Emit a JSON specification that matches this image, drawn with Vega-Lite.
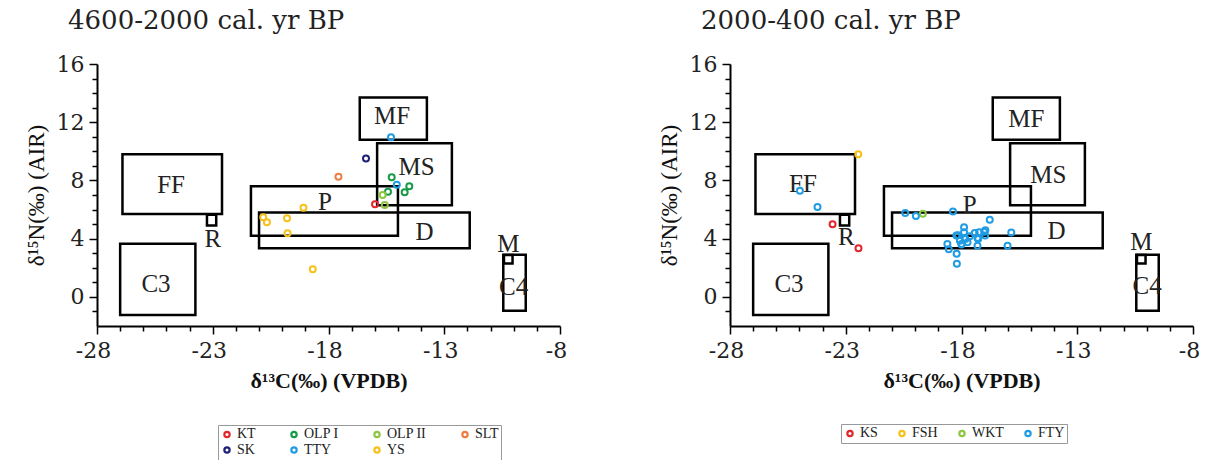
{
  "$schema": "https://vega.github.io/schema/vega-lite/v6.json",
  "padding": {"left": 25, "top": 8, "right": 5, "bottom": 0},
  "background": "white",
  "datasets": {
    "ptsL": [
      {"C": -15.99, "N": 6.36, "site": "KT"},
      {"C": -15.27, "N": 8.22, "site": "OLP I"},
      {"C": -14.51, "N": 7.6, "site": "OLP I"},
      {"C": -14.71, "N": 7.19, "site": "OLP I"},
      {"C": -15.43, "N": 7.23, "site": "OLP I"},
      {"C": -15.66, "N": 7.0, "site": "OLP II"},
      {"C": -15.57, "N": 6.32, "site": "OLP II"},
      {"C": -17.57, "N": 8.26, "site": "SLT"},
      {"C": -16.38, "N": 9.5, "site": "SK"},
      {"C": -15.3, "N": 10.96, "site": "TTY"},
      {"C": -15.05, "N": 7.71, "site": "TTY"},
      {"C": -19.08, "N": 6.13, "site": "YS"},
      {"C": -20.82, "N": 5.47, "site": "YS"},
      {"C": -20.66, "N": 5.13, "site": "YS"},
      {"C": -19.79, "N": 5.4, "site": "YS"},
      {"C": -19.77, "N": 4.37, "site": "YS"},
      {"C": -18.68, "N": 1.9, "site": "YS"}
    ],
    "ptsR": [
      {"C": -23.57, "N": 4.99, "site": "KS"},
      {"C": -22.45, "N": 3.34, "site": "KS"},
      {"C": -22.46, "N": 9.8, "site": "FSH"},
      {"C": -19.67, "N": 5.72, "site": "WKT"},
      {"C": -24.98, "N": 7.3, "site": "FTY"},
      {"C": -24.22, "N": 6.18, "site": "FTY"},
      {"C": -20.43, "N": 5.77, "site": "FTY"},
      {"C": -19.97, "N": 5.56, "site": "FTY"},
      {"C": -18.37, "N": 5.87, "site": "FTY"},
      {"C": -16.78, "N": 5.3, "site": "FTY"},
      {"C": -15.85, "N": 4.42, "site": "FTY"},
      {"C": -16.01, "N": 3.52, "site": "FTY"},
      {"C": -18.61, "N": 3.63, "site": "FTY"},
      {"C": -18.55, "N": 3.27, "site": "FTY"},
      {"C": -18.21, "N": 2.96, "site": "FTY"},
      {"C": -18.2, "N": 2.27, "site": "FTY"},
      {"C": -17.89, "N": 4.78, "site": "FTY"},
      {"C": -17.89, "N": 4.44, "site": "FTY"},
      {"C": -18.15, "N": 4.24, "site": "FTY"},
      {"C": -18.07, "N": 3.86, "site": "FTY"},
      {"C": -17.83, "N": 3.98, "site": "FTY"},
      {"C": -17.64, "N": 4.17, "site": "FTY"},
      {"C": -17.43, "N": 4.39, "site": "FTY"},
      {"C": -17.24, "N": 4.44, "site": "FTY"},
      {"C": -17.02, "N": 4.48, "site": "FTY"},
      {"C": -16.98, "N": 4.21, "site": "FTY"},
      {"C": -17.28, "N": 3.98, "site": "FTY"},
      {"C": -17.31, "N": 3.52, "site": "FTY"},
      {"C": -18.0, "N": 3.64, "site": "FTY"},
      {"C": -17.74, "N": 3.75, "site": "FTY"},
      {"C": -16.97, "N": 4.58, "site": "FTY"},
      {"C": -17.31, "N": 4.05, "site": "FTY"},
      {"C": -17.86, "N": 4.05, "site": "FTY"},
      {"C": -18.22, "N": 4.21, "site": "FTY"},
      {"C": -18.0, "N": 3.6, "site": "FTY"}
    ],
    "boxesL": [
      {"box": "FF", "x1": -26.9, "x2": -22.6, "y1": 5.7, "y2": 9.8, "lx": -24.8, "ly": 7.7},
      {"box": "R", "x1": -23.25, "x2": -22.85, "y1": 4.9, "y2": 5.65, "lx": -23.0, "ly": 4.0},
      {"box": "C3", "x1": -27.0, "x2": -23.75, "y1": -1.25, "y2": 3.65, "lx": -25.45, "ly": 0.9},
      {"box": "P", "x1": -21.35, "x2": -15.0, "y1": 4.2, "y2": 7.6, "lx": -18.15, "ly": 6.5},
      {"box": "D", "x1": -21.0, "x2": -11.9, "y1": 3.35, "y2": 5.8, "lx": -13.85, "ly": 4.45},
      {"box": "MS", "x1": -15.9, "x2": -12.67, "y1": 6.3, "y2": 10.55, "lx": -14.2, "ly": 8.95},
      {"box": "MF", "x1": -16.65, "x2": -13.75, "y1": 10.8, "y2": 13.7, "lx": -15.25, "ly": 12.45},
      {"box": "C4", "x1": -10.45, "x2": -9.48, "y1": -0.95, "y2": 2.9, "lx": -10.0, "ly": 0.7},
      {"box": "M", "x1": -10.42, "x2": -10.05, "y1": 2.3, "y2": 2.88, "lx": -10.23, "ly": 3.65}
    ],
    "boxesR": [
      {"box": "FF", "x1": -26.9, "x2": -22.6, "y1": 5.7, "y2": 9.8, "lx": -24.85, "ly": 7.75},
      {"box": "R", "x1": -23.25, "x2": -22.85, "y1": 4.9, "y2": 5.65, "lx": -22.97, "ly": 4.1},
      {"box": "C3", "x1": -27.0, "x2": -23.75, "y1": -1.25, "y2": 3.65, "lx": -25.45, "ly": 0.9},
      {"box": "P", "x1": -21.35, "x2": -15.0, "y1": 4.2, "y2": 7.6, "lx": -17.65, "ly": 6.3},
      {"box": "D", "x1": -21.0, "x2": -11.9, "y1": 3.35, "y2": 5.8, "lx": -13.9, "ly": 4.55},
      {"box": "MS", "x1": -15.9, "x2": -12.67, "y1": 6.3, "y2": 10.55, "lx": -14.25, "ly": 8.4},
      {"box": "MF", "x1": -16.65, "x2": -13.75, "y1": 10.8, "y2": 13.7, "lx": -15.2, "ly": 12.25},
      {"box": "C4", "x1": -10.45, "x2": -9.48, "y1": -0.95, "y2": 2.9, "lx": -9.98, "ly": 0.75},
      {"box": "M", "x1": -10.42, "x2": -10.05, "y1": 2.3, "y2": 2.88, "lx": -10.23, "ly": 3.75}
    ]
  },
  "hconcat": [
    {
      "width": 463,
      "height": 262,
      "title": {"text": "4600-2000 cal. yr BP", "anchor": "start", "dx": -29},
      "resolve": {"axis": {"x": "independent", "y": "independent"}},
      "layer": [
        {
          "data": {"name": "boxesL"},
          "mark": {"type": "rect", "fillOpacity": 0, "stroke": "black", "strokeWidth": 2.5},
          "encoding": {
            "x": {"field": "x1", "type": "quantitative", "scale": {"domain": [-28, -8], "nice": false, "zero": false},
                  "axis": {"orient": "bottom", "title": "δ¹³C(‰) (VPDB)", "values": [-28, -23, -18, -13, -8], "labelExpr": "'-' + abs(datum.value)", "tickSize": 8}},
            "x2": {"field": "x2"},
            "y": {"field": "y1", "type": "quantitative", "scale": {"domain": [-2, 16], "nice": false, "zero": false},
                  "axis": {"orient": "left", "title": "δ¹⁵N(‰) (AIR)", "values": [0, 4, 8, 12, 16], "tickSize": 8}},
            "y2": {"field": "y2"}
          }
        },
        {
          "data": {"name": "boxesL"},
          "mark": {"type": "text", "font": "Liberation Serif", "fontSize": 25, "color": "#222", "align": "center", "baseline": "middle"},
          "encoding": {
            "x": {"field": "lx", "type": "quantitative", "axis": null},
            "y": {"field": "ly", "type": "quantitative", "axis": null},
            "text": {"field": "box"}
          }
        },
        {
          "data": {"name": "ptsL"},
          "mark": {"type": "point", "shape": "circle", "filled": false, "strokeWidth": 2, "size": 36, "opacity": 1},
          "encoding": {
            "x": {"field": "C", "type": "quantitative",
                  "axis": {"orient": "bottom", "title": null, "labels": false, "domain": false, "tickSize": 5, "values": [-27, -26, -25, -24, -22, -21, -20, -19, -17, -16, -15, -14, -12, -11, -10, -9]}},
            "y": {"field": "N", "type": "quantitative",
                  "axis": {"orient": "left", "title": null, "labels": false, "domain": false, "tickSize": 5, "values": [-1, 1, 2, 3, 5, 6, 7, 9, 10, 11, 13, 14, 15]}},
            "color": {
              "field": "site", "type": "nominal",
              "scale": {"domain": ["KT", "OLP I", "OLP II", "SLT", "SK", "TTY", "YS"], "range": ["#e3262b", "#179b48", "#8dc63f", "#ef7d43", "#1e2077", "#1f9ce4", "#f7c11a"]},
              "legend": {"orient": "none", "legendX": 121, "legendY": 361, "columns": 4, "direction": "horizontal", "columnPadding": 30}
            }
          }
        }
      ]
    },
    {
      "width": 463,
      "height": 262,
      "title": {"text": "2000-400 cal. yr BP", "anchor": "start", "dx": -29},
      "resolve": {"axis": {"x": "independent", "y": "independent"}},
      "layer": [
        {
          "data": {"name": "boxesR"},
          "mark": {"type": "rect", "fillOpacity": 0, "stroke": "black", "strokeWidth": 2.5},
          "encoding": {
            "x": {"field": "x1", "type": "quantitative", "scale": {"domain": [-28, -8], "nice": false, "zero": false},
                  "axis": {"orient": "bottom", "title": "δ¹³C(‰) (VPDB)", "values": [-28, -23, -18, -13, -8], "labelExpr": "'-' + abs(datum.value)", "tickSize": 8}},
            "x2": {"field": "x2"},
            "y": {"field": "y1", "type": "quantitative", "scale": {"domain": [-2, 16], "nice": false, "zero": false},
                  "axis": {"orient": "left", "title": "δ¹⁵N(‰) (AIR)", "values": [0, 4, 8, 12, 16], "tickSize": 8}},
            "y2": {"field": "y2"}
          }
        },
        {
          "data": {"name": "boxesR"},
          "mark": {"type": "text", "font": "Liberation Serif", "fontSize": 25, "color": "#222", "align": "center", "baseline": "middle"},
          "encoding": {
            "x": {"field": "lx", "type": "quantitative", "axis": null},
            "y": {"field": "ly", "type": "quantitative", "axis": null},
            "text": {"field": "box"}
          }
        },
        {
          "data": {"name": "ptsR"},
          "mark": {"type": "point", "shape": "circle", "filled": false, "strokeWidth": 2, "size": 36, "opacity": 1},
          "encoding": {
            "x": {"field": "C", "type": "quantitative",
                  "axis": {"orient": "bottom", "title": null, "labels": false, "domain": false, "tickSize": 5, "values": [-27, -26, -25, -24, -22, -21, -20, -19, -17, -16, -15, -14, -12, -11, -10, -9]}},
            "y": {"field": "N", "type": "quantitative",
                  "axis": {"orient": "left", "title": null, "labels": false, "domain": false, "tickSize": 5, "values": [-1, 1, 2, 3, 5, 6, 7, 9, 10, 11, 13, 14, 15]}},
            "color": {
              "field": "site", "type": "nominal",
              "scale": {"domain": ["KS", "FSH", "WKT", "FTY"], "range": ["#e3262b", "#f7c11a", "#8dc63f", "#1f9ce4"]},
              "legend": {"orient": "none", "legendX": 111, "legendY": 360, "columns": 4, "direction": "horizontal", "columnPadding": 16}
            }
          }
        }
      ]
    }
  ],
  "resolve": {"scale": {"color": "independent"}, "legend": {"color": "independent"}},
  "spacing": 170,
  "bounds": "flush",
  "config": {
    "view": {"stroke": null},
    "title": {"font": "DejaVu Serif", "fontSize": 26, "fontWeight": "normal", "color": "#222", "offset": 19, "frame": "group"},
    "axis": {
      "grid": false,
      "domainColor": "black",
      "domainWidth": 2,
      "tickColor": "black",
      "tickWidth": 1.5,
      "labelFont": "DejaVu Serif",
      "labelFontSize": 22,
      "labelColor": "#222",
      "labelOverlap": false,
      "labelFlush": false,
      "titleFont": "Liberation Serif",
      "titleColor": "#111"
    },
    "axisX": {
      "labelPadding": 6,
      "labelOffset": -4,
      "titleFontSize": 22,
      "titleFontWeight": "bold",
      "titlePadding": 9
    },
    "axisY": {
      "labelPadding": 5,
      "titleFontSize": 23,
      "titleFontWeight": "normal",
      "titlePadding": 8
    },
    "legend": {
      "title": null,
      "strokeColor": "#999",
      "padding": 2,
      "symbolType": "circle",
      "symbolSize": 28,
      "symbolStrokeWidth": 2.2,
      "symbolFillColor": "white",
      "labelFont": "Liberation Serif",
      "labelFontSize": 14,
      "labelColor": "#222",
      "labelOffset": 3,
      "rowPadding": 0
    }
  }
}
